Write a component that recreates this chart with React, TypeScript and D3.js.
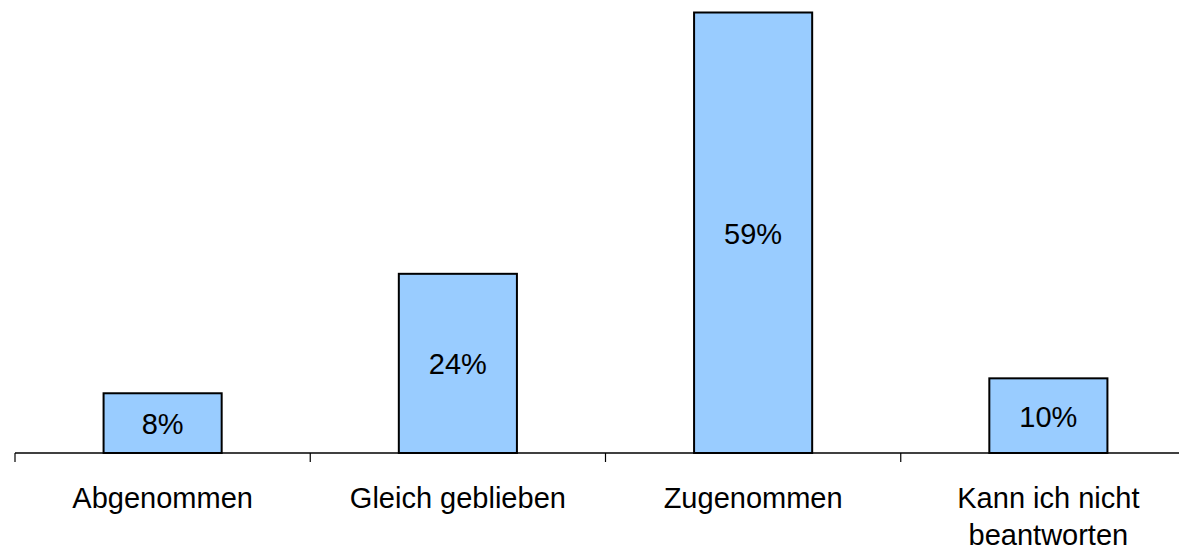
import React from "react";
import * as d3 from "d3";

const categories: string[][] = [
  ["Abgenommen"],
  ["Gleich geblieben"],
  ["Zugenommen"],
  ["Kann ich nicht", "beantworten"],
];
const values: number[] = [8, 24, 59, 10];
const valueLabels: string[] = ["8%", "24%", "59%", "10%"];

const W = 1179;
const H = 550;
const FONT = "'Liberation Sans', Arial, sans-serif";

export default function App() {
  const left = 15;
  const right = 1196;
  const baseline = 453;
  const top = 12.5;

  const keys = categories.map((_, i) => String(i));
  const x = d3
    .scaleBand<string>()
    .domain(keys)
    .range([left, right])
    .paddingInner(0.6)
    .paddingOuter(0.3);
  const y = d3.scaleLinear().domain([0, 59]).range([baseline, top]);

  const step = x.step();
  const tickXs = d3.range(keys.length + 1).map((i) => left + i * step);

  return (
    <svg
      width={W}
      height={H}
      style={{ position: "absolute", left: 0, top: 0, display: "block" }}
      fontFamily={FONT}
    >
      <rect width={W} height={H} fill="#ffffff" />
      {values.map((v, i) => {
        const bx = x(String(i))!;
        const by = y(v);
        const bh = baseline - by;
        return (
          <g key={i}>
            <rect
              x={bx}
              y={by}
              width={x.bandwidth()}
              height={bh}
              fill="#99CCFF"
              stroke="#000000"
              strokeWidth={2}
            />
            <text
              x={bx + x.bandwidth() / 2}
              y={by + bh / 2 + 11}
              textAnchor="middle"
              fontSize={29}
              fill="#000000"
            >
              {valueLabels[i]}
            </text>
          </g>
        );
      })}
      <line x1={left} x2={W} y1={baseline} y2={baseline} stroke="#000000" strokeWidth={1.5} />
      {tickXs.map((tx, i) => (
        <line key={i} x1={tx} x2={tx} y1={baseline} y2={baseline + 9} stroke="#000000" strokeWidth={1.2} />
      ))}
      {categories.map((lines, i) => (
        <text
          key={i}
          x={x(String(i))! + x.bandwidth() / 2}
          y={508}
          textAnchor="middle"
          fontSize={29}
          fill="#000000"
        >
          {lines.map((l, j) => (
            <tspan key={j} x={x(String(i))! + x.bandwidth() / 2} dy={j === 0 ? 0 : 37}>
              {l}
            </tspan>
          ))}
        </text>
      ))}
    </svg>
  );
}
